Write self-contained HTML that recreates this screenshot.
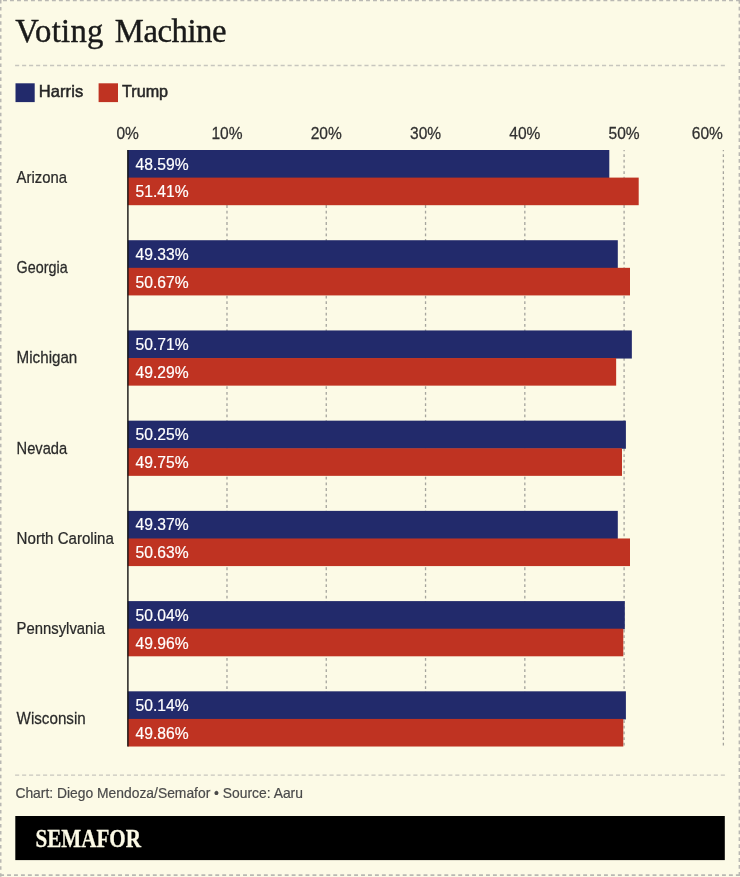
<!DOCTYPE html>
<html lang="en"><head><meta charset="utf-8"><title>Voting Machine</title>
<style>html,body{margin:0;padding:0;background:#FCFAE6;}svg{display:block;}text{font-family:"Liberation Sans",sans-serif;}.serif{font-family:"Liberation Serif",serif;}</style></head><body>
<svg width="740" height="877" viewBox="0 0 740 877">
<rect width="740" height="877" fill="#FCFAE6"/>
<g fill="none" stroke="#b9b8b3" stroke-width="1.4">
<path d="M-3.94 0.65H740" stroke-dasharray="3.9 3.081"/><path d="M0.75 0.06V877" stroke-width="1.5" stroke-dasharray="3.5 3.542"/><path d="M739.3 -0.12V877" stroke-dasharray="3.8 3.121"/><path d="M0.13 875.15H740" stroke-width="1.6" stroke-dasharray="3.9 3.041"/></g>
<g fill="none" stroke="#c7c6be" stroke-width="1.4" stroke-dasharray="4.1 2.887">
<path d="M15.1 65.55H724.9"/><path d="M15.1 775.1H724.9"/></g>
<text class="serif" transform="translate(15.30 42.00) scale(1.0000 1)" font-size="32.7" fill="#1a1a1a" text-anchor="start" stroke="#1a1a1a" stroke-width="0.4" style="word-spacing:2.9px"><tspan style="letter-spacing:0.3px">Voting</tspan> <tspan style="letter-spacing:-0.45px">Machine</tspan></text>
<rect x="15.5" y="83.3" width="19.2" height="18.8" fill="#222A6B"/>
<text transform="translate(38.70 96.80) scale(1.0000 1)" font-size="16.5" fill="#262626" text-anchor="start" stroke="#262626" stroke-width="0.5" style="letter-spacing:0.1px">Harris</text>
<rect x="98.6" y="83.3" width="19.4" height="18.8" fill="#BF3322"/>
<text transform="translate(122.00 96.80) scale(0.9800 1)" font-size="16.5" fill="#262626" text-anchor="start" stroke="#262626" stroke-width="0.5">Trump</text>
<g fill="none" stroke="#a5a49d" stroke-width="1.3" stroke-dasharray="2.8 2.86" stroke-dashoffset="1.5">
<path d="M226.98 150V746.5"/>
<path d="M326.26 150V746.5"/>
<path d="M425.54 150V746.5"/>
<path d="M524.82 150V746.5"/>
<path d="M624.10 150V746.5"/>
<path d="M723.38 150V746.5"/>
</g>
<text transform="translate(127.70 139.00) scale(0.9600 1)" font-size="16.2" fill="#303030" text-anchor="middle" stroke="#303030" stroke-width="0.25">0%</text>
<text transform="translate(226.98 139.00) scale(0.9600 1)" font-size="16.2" fill="#303030" text-anchor="middle" stroke="#303030" stroke-width="0.25">10%</text>
<text transform="translate(326.26 139.00) scale(0.9600 1)" font-size="16.2" fill="#303030" text-anchor="middle" stroke="#303030" stroke-width="0.25">20%</text>
<text transform="translate(425.54 139.00) scale(0.9600 1)" font-size="16.2" fill="#303030" text-anchor="middle" stroke="#303030" stroke-width="0.25">30%</text>
<text transform="translate(524.82 139.00) scale(0.9600 1)" font-size="16.2" fill="#303030" text-anchor="middle" stroke="#303030" stroke-width="0.25">40%</text>
<text transform="translate(624.10 139.00) scale(0.9600 1)" font-size="16.2" fill="#303030" text-anchor="middle" stroke="#303030" stroke-width="0.25">50%</text>
<text transform="translate(722.90 139.00) scale(0.9600 1)" font-size="16.2" fill="#303030" text-anchor="end" stroke="#303030" stroke-width="0.25">60%</text>
<rect x="127.70" y="150.00" width="481.60" height="28.10" fill="#222A6B"/>
<rect x="127.70" y="177.60" width="511.00" height="27.60" fill="#BF3322"/>
<text transform="translate(135.50 169.60) scale(0.9500 1)" font-size="16.5" fill="#fff" text-anchor="start" stroke="#fff" stroke-width="0.2">48.59%</text>
<text transform="translate(135.50 197.45) scale(0.9500 1)" font-size="16.5" fill="#fff" text-anchor="start" stroke="#fff" stroke-width="0.2">51.41%</text>
<text transform="translate(16.60 183.00) scale(0.9000 1)" font-size="16.5" fill="#2a2a2a" text-anchor="start" stroke="#2a2a2a" stroke-width="0.25">Arizona</text>
<rect x="127.70" y="240.22" width="490.10" height="28.10" fill="#222A6B"/>
<rect x="127.70" y="267.82" width="502.30" height="27.60" fill="#BF3322"/>
<text transform="translate(135.50 259.82) scale(0.9500 1)" font-size="16.5" fill="#fff" text-anchor="start" stroke="#fff" stroke-width="0.2">49.33%</text>
<text transform="translate(135.50 287.67) scale(0.9500 1)" font-size="16.5" fill="#fff" text-anchor="start" stroke="#fff" stroke-width="0.2">50.67%</text>
<text transform="translate(16.60 273.22) scale(0.8700 1)" font-size="16.5" fill="#2a2a2a" text-anchor="start" stroke="#2a2a2a" stroke-width="0.25">Georgia</text>
<rect x="127.70" y="330.44" width="504.15" height="28.10" fill="#222A6B"/>
<rect x="127.70" y="358.04" width="488.45" height="27.60" fill="#BF3322"/>
<text transform="translate(135.50 350.04) scale(0.9500 1)" font-size="16.5" fill="#fff" text-anchor="start" stroke="#fff" stroke-width="0.2">50.71%</text>
<text transform="translate(135.50 377.89) scale(0.9500 1)" font-size="16.5" fill="#fff" text-anchor="start" stroke="#fff" stroke-width="0.2">49.29%</text>
<text transform="translate(16.60 363.44) scale(0.9200 1)" font-size="16.5" fill="#2a2a2a" text-anchor="start" stroke="#2a2a2a" stroke-width="0.25">Michigan</text>
<rect x="127.70" y="420.66" width="498.20" height="28.10" fill="#222A6B"/>
<rect x="127.70" y="448.26" width="494.30" height="27.60" fill="#BF3322"/>
<text transform="translate(135.50 440.26) scale(0.9500 1)" font-size="16.5" fill="#fff" text-anchor="start" stroke="#fff" stroke-width="0.2">50.25%</text>
<text transform="translate(135.50 468.11) scale(0.9500 1)" font-size="16.5" fill="#fff" text-anchor="start" stroke="#fff" stroke-width="0.2">49.75%</text>
<text transform="translate(16.60 453.66) scale(0.8900 1)" font-size="16.5" fill="#2a2a2a" text-anchor="start" stroke="#2a2a2a" stroke-width="0.25">Nevada</text>
<rect x="127.70" y="510.88" width="490.10" height="28.10" fill="#222A6B"/>
<rect x="127.70" y="538.48" width="502.30" height="27.60" fill="#BF3322"/>
<text transform="translate(135.50 530.48) scale(0.9500 1)" font-size="16.5" fill="#fff" text-anchor="start" stroke="#fff" stroke-width="0.2">49.37%</text>
<text transform="translate(135.50 558.33) scale(0.9500 1)" font-size="16.5" fill="#fff" text-anchor="start" stroke="#fff" stroke-width="0.2">50.63%</text>
<text transform="translate(16.60 543.88) scale(0.9150 1)" font-size="16.5" fill="#2a2a2a" text-anchor="start" stroke="#2a2a2a" stroke-width="0.25">North Carolina</text>
<rect x="127.70" y="601.10" width="497.10" height="28.10" fill="#222A6B"/>
<rect x="127.70" y="628.70" width="495.60" height="27.60" fill="#BF3322"/>
<text transform="translate(135.50 620.70) scale(0.9500 1)" font-size="16.5" fill="#fff" text-anchor="start" stroke="#fff" stroke-width="0.2">50.04%</text>
<text transform="translate(135.50 648.55) scale(0.9500 1)" font-size="16.5" fill="#fff" text-anchor="start" stroke="#fff" stroke-width="0.2">49.96%</text>
<text transform="translate(16.60 634.10) scale(0.9000 1)" font-size="16.5" fill="#2a2a2a" text-anchor="start" stroke="#2a2a2a" stroke-width="0.25">Pennsylvania</text>
<rect x="127.70" y="691.32" width="498.20" height="28.10" fill="#222A6B"/>
<rect x="127.70" y="718.92" width="495.60" height="27.60" fill="#BF3322"/>
<text transform="translate(135.50 710.92) scale(0.9500 1)" font-size="16.5" fill="#fff" text-anchor="start" stroke="#fff" stroke-width="0.2">50.14%</text>
<text transform="translate(135.50 738.77) scale(0.9500 1)" font-size="16.5" fill="#fff" text-anchor="start" stroke="#fff" stroke-width="0.2">49.86%</text>
<text transform="translate(16.60 724.32) scale(0.9200 1)" font-size="16.5" fill="#2a2a2a" text-anchor="start" stroke="#2a2a2a" stroke-width="0.25">Wisconsin</text>
<path d="M127.9 150V746.5" stroke="#111" stroke-width="1.4" fill="none"/>
<text transform="translate(15.40 798.30) scale(0.9240 1)" font-size="15" fill="#4a4a4a" text-anchor="start" stroke="#4a4a4a" stroke-width="0.2">Chart: Diego Mendoza/Semafor • Source: Aaru</text>
<rect x="15.3" y="816" width="709.5" height="44.1" fill="#000"/>
<text class="serif" transform="translate(35.40 846.50) scale(0.8450 1)" font-size="25" fill="#FCFAE6" text-anchor="start" font-weight="bold" stroke="#FCFAE6" stroke-width="0.3">SEMAFOR</text>
</svg></body></html>
